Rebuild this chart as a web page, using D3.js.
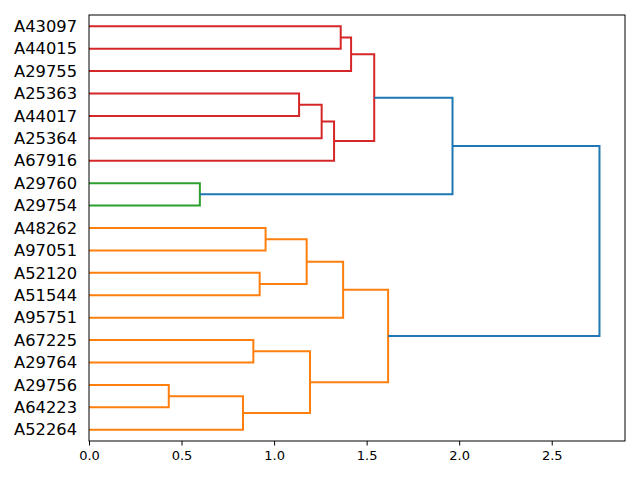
<!DOCTYPE html>
<html>
<head>
<meta charset="utf-8">
<script src="https://cdn.jsdelivr.net/npm/d3@7"></script>
<style>
  body { margin: 0; background: #fff; }
  text { font-family: "DejaVu Sans", sans-serif; }
</style>
</head>
<body>
<div id="plot"></div>
<script>
// leaf labels, top to bottom
let leaves = ['A43097', 'A44015', 'A29755', 'A25363', 'A44017', 'A25364', 'A67916',
  'A29760', 'A29754', 'A48262', 'A97051', 'A52120', 'A51544', 'A95751',
  'A67225', 'A29764', 'A29756', 'A64223', 'A52264'];

// merges: [child a, child b, height, group] ; ids >= leaves.length are earlier merges
let merges = [
  [16, 17, 0.431, 'orange'],  // 19
  [19, 18, 0.832, 'orange'],  // 20
  [14, 15, 0.888, 'orange'],  // 21
  [11, 12, 0.922, 'orange'],  // 22
  [9, 10, 0.954, 'orange'],   // 23
  [3, 4, 1.135, 'red'],       // 24
  [23, 22, 1.176, 'orange'],  // 25
  [21, 20, 1.194, 'orange'],  // 26
  [24, 5, 1.257, 'red'],      // 27
  [27, 6, 1.324, 'red'],      // 28
  [0, 1, 1.360, 'red'],       // 29
  [25, 13, 1.373, 'orange'],  // 30
  [29, 2, 1.416, 'red'],      // 31
  [31, 28, 1.541, 'red'],     // 32
  [30, 26, 1.616, 'orange'],  // 33
  [7, 8, 0.599, 'green'],     // 34
  [32, 34, 1.964, 'above'],   // 35
  [35, 33, 2.758, 'above']    // 36
];

let xTicks = [0, 0.5, 1.0, 1.5, 2.0, 2.5];

let width = 640, height = 480;
let margin = { top: 15, bottom: 39, left: 89, right: 15 };

const color = d3.scaleOrdinal()
  .domain(['above', 'orange', 'green', 'red'])
  .range(['#1f77b4', '#ff7f0e', '#2ca02c', '#d62728']);

let svg = d3.select('#plot')
  .append('svg')
  .attr('width', width)
  .attr('height', height);

let n = leaves.length;
let maxH = d3.max(merges, d => d[2]);

let xScale = d3.scaleLinear()
  .domain([0, maxH * 1.05])
  .range([margin.left, width - margin.right]);

// scipy style leaf coords: 5, 15, 25 ... from the bottom
let yScale = d3.scaleLinear()
  .domain([0, n * 10])
  .range([height - margin.bottom, margin.top]);

// node positions
let pos = leaves.map((d, i) => ({ x: 0, y: 5 + 10 * (n - 1 - i) }));
merges.forEach(m => {
  let a = pos[m[0]], b = pos[m[1]];
  pos.push({ x: m[2], y: (a.y + b.y) / 2 });
});

svg.append('g')
  .selectAll('path')
  .data(merges)
  .enter()
  .append('path')
  .attr('fill', 'none')
  .attr('stroke', d => color(d[3]))
  .attr('stroke-width', 2)
  .attr('d', d => {
    let a = pos[d[0]], b = pos[d[1]];
    return 'M' + xScale(a.x) + ',' + yScale(a.y)
      + 'H' + xScale(d[2])
      + 'V' + yScale(b.y)
      + 'H' + xScale(b.x);
  });

// frame
svg.append('rect')
  .attr('x', margin.left)
  .attr('y', margin.top)
  .attr('width', width - margin.left - margin.right)
  .attr('height', height - margin.top - margin.bottom)
  .attr('fill', 'none')
  .attr('stroke', '#000')
  .attr('stroke-width', 1);

let xAxis = svg.append('g')
  .attr('transform', `translate(0, ${height - margin.bottom})`)
  .call(d3.axisBottom(xScale).tickValues(xTicks).tickFormat(d3.format('.1f')).tickSize(4.5).tickPadding(5));
xAxis.select('.domain').remove();
xAxis.selectAll('text')
  .style('font-size', '13px')
  .style('font-family', '"DejaVu Sans", sans-serif')
  .attr('fill', '#000');

// leaf labels
svg.append('g')
  .selectAll('text')
  .data(leaves)
  .enter()
  .append('text')
  .attr('x', 77)
  .attr('y', (d, i) => yScale(5 + 10 * (n - 1 - i)))
  .attr('dy', '0.35em')
  .attr('text-anchor', 'end')
  .style('font-size', '16.3px')
  .attr('fill', '#000')
  .text(d => d);
</script>
</body>
</html>
